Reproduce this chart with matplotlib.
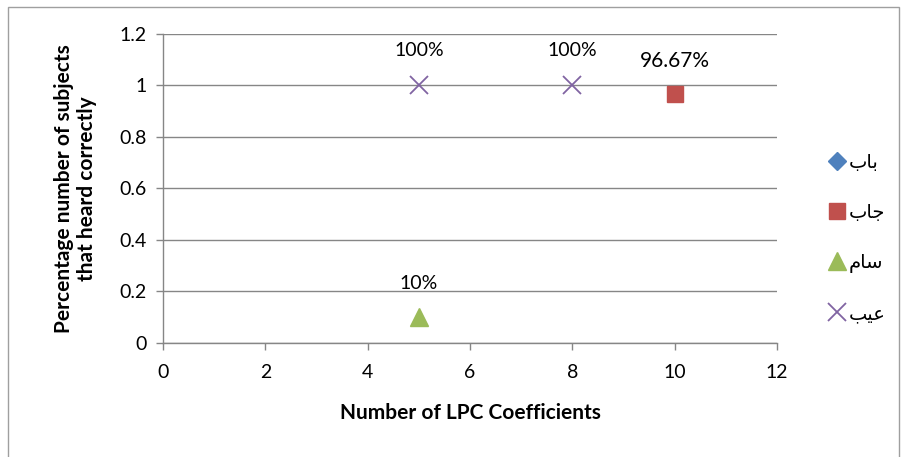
import matplotlib
matplotlib.use("Agg")
import matplotlib.pyplot as plt
from matplotlib.patches import Rectangle

plt.rcParams['font.family'] = ['Lato', 'DejaVu Sans']

# series data: number of LPC coefficients vs fraction heard correctly
bab_x, bab_y = [], []
jab_x, jab_y = [10], [0.9667]
sam_x, sam_y = [5], [0.1]
aib_x, aib_y = [5, 8], [1, 1]

names = ['باب', 'جاب', 'سام', 'عيب']
colors = ['#4F81BD', '#C0504D', '#9BBB59', '#8064A2']

x_ticks = [0, 2, 4, 6, 8, 10, 12]
y_ticks = [0, 0.2, 0.4, 0.6, 0.8, 1, 1.2]
y_tick_labels = ['0', '0.2', '0.4', '0.6', '0.8', '1', '1.2']

# tiny arabic shaper (matplotlib has no contextual shaping)
FORMS = {
    'ا': ('\uFE8D', '\uFE8E', None, None),
    'ب': ('\uFE8F', '\uFE90', '\uFE91', '\uFE92'),
    'ج': ('\uFE9D', '\uFE9E', '\uFE9F', '\uFEA0'),
    'س': ('\uFEB1', '\uFEB2', '\uFEB3', '\uFEB4'),
    'م': ('\uFEE1', '\uFEE2', '\uFEE3', '\uFEE4'),
    'ع': ('\uFEC9', '\uFECA', '\uFECB', '\uFECC'),
    'ي': ('\uFEF1', '\uFEF2', '\uFEF3', '\uFEF4'),
}

def shape(word):
    out = []
    for i, ch in enumerate(word):
        iso, fin, ini, med = FORMS[ch]
        prev = i > 0 and FORMS[word[i - 1]][2] is not None
        nxt = i < len(word) - 1 and ini is not None
        if prev and nxt:
            out.append(med)
        elif prev:
            out.append(fin)
        elif nxt:
            out.append(ini)
        else:
            out.append(iso)
    return ''.join(reversed(out))

fig = plt.figure(figsize=(9.01, 4.57), dpi=100)
ax = fig.add_axes([0.1809, 0.2495, 0.8624 - 0.1809, 0.9256 - 0.2495])

# outer chart border
fig.patches.append(Rectangle((8 / 901, -0.01), 891 / 901, 1 - 7 / 457 + 0.01,
                             transform=fig.transFigure, fill=False,
                             edgecolor='#9F9F9F', linewidth=1.0))

gray = '#868686'
ax.set_xlim(0, 12)
ax.set_ylim(0, 1.2)
ax.set_xticks(x_ticks)
ax.set_yticks(y_ticks)
ax.set_yticklabels(y_tick_labels)
ax.yaxis.grid(True, color=gray, linewidth=1.0)
ax.set_axisbelow(True)
for s in ['top', 'right']:
    ax.spines[s].set_visible(False)
for s in ['left', 'bottom']:
    ax.spines[s].set_color(gray)
    ax.spines[s].set_linewidth(1.0)
ax.tick_params(axis='both', direction='out', length=5, color=gray,
               labelsize=14, width=1.0)
ax.tick_params(axis='x', pad=10)
ax.tick_params(axis='y', pad=7)

ax.plot(bab_x, bab_y, linestyle='none', marker='D', markersize=9,
        color=colors[0], label=shape(names[0]))
ax.plot(jab_x, jab_y, linestyle='none', marker='s', markersize=12,
        color=colors[1], label=shape(names[1]))
ax.plot(sam_x, sam_y, linestyle='none', marker='^', markersize=13,
        color=colors[2], label=shape(names[2]))
ax.plot(aib_x, aib_y, linestyle='none', marker='x', markersize=13,
        markeredgewidth=1.3, color=colors[3], label=shape(names[3]))

# value labels above the points
for xs, ys, dy, fs in [(aib_x, aib_y, 0.135, 14), (jab_x, jab_y, 0.13, 15),
                       (sam_x, sam_y, 0.13, 14)]:
    for x, y in zip(xs, ys):
        ax.text(x, y + dy, f'{y * 100:g}%', ha='center', va='center',
                fontsize=fs, color='black')

ax.set_xlabel('Number of LPC Coefficients', fontsize=15, fontweight='bold',
              labelpad=16)
ax.set_ylabel('Percentage number of subjects\nthat heard correctly',
              fontsize=15, fontweight='bold', labelpad=16, linespacing=1.15)

leg = ax.legend(loc='center left', bbox_to_anchor=(1.055, 0.34), frameon=False,
                labelspacing=1.6, handletextpad=0.15, handlelength=0.9,
                prop={'family': 'DejaVu Sans', 'size': 14})

fig.savefig('out.png', dpi=100)
